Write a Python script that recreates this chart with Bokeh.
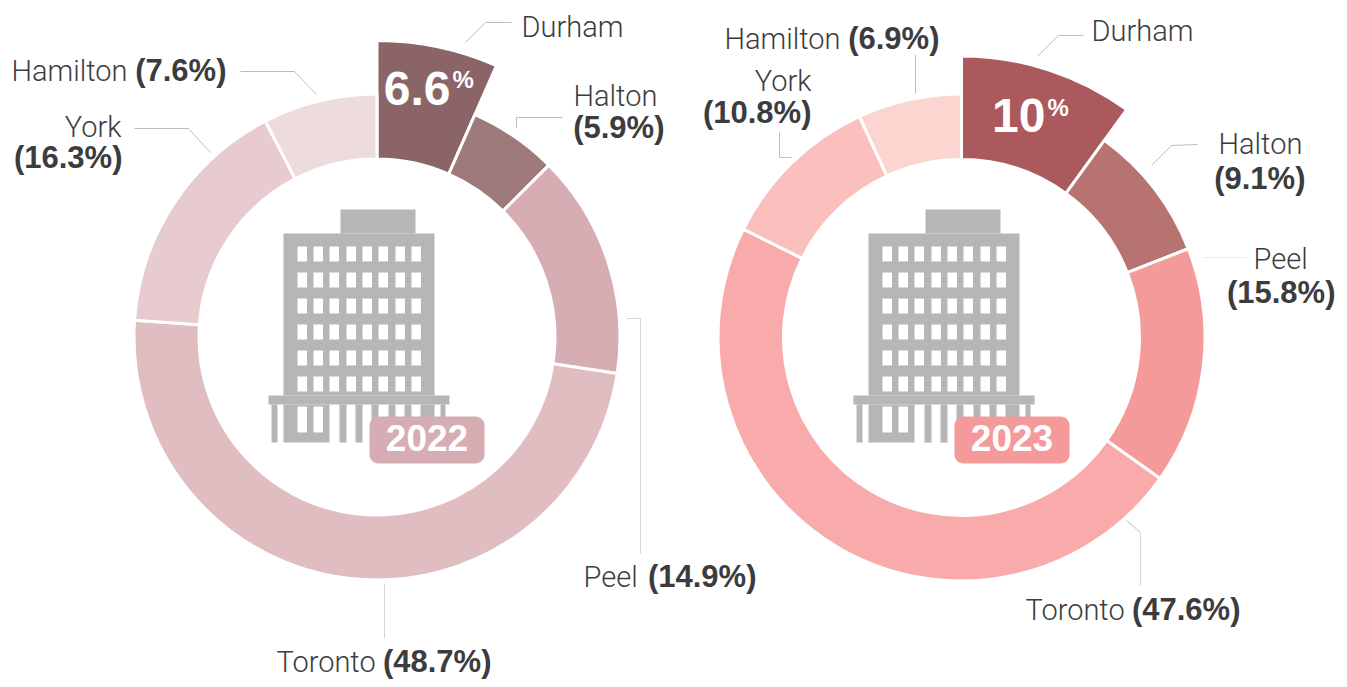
import numpy as np
from bokeh.plotting import figure
from bokeh.models import Range1d, ColumnDataSource
from bokeh.core.properties import value
from bokeh.embed import file_html
from bokeh.resources import INLINE

regions = ["Durham", "Halton", "Peel", "Toronto", "York", "Hamilton"]
values_2022 = [6.6, 5.9, 14.9, 48.7, 16.3, 7.6]
values_2023 = [10, 9.1, 15.8, 47.6, 10.8, 6.9]
colors_2022 = ["#8b6468", "#9e7a7c", "#d6adb2", "#dfbdc1", "#e8cbce", "#eedcdd"]
colors_2023 = ["#aa5a5c", "#b7736f", "#f59a9a", "#f9abab", "#fbbfbd", "#fcd5d0"]

W, H = 1347, 687
LIGHT = "Roboto Light"
BOLD = "Liberation Sans"
INK = "#3c3c3e"
GREY = "#b5b6b5"
LEAD = "#bdbdbd"
LEAD_SOFT = "#d6d6d6"
LEAD_FAINT = "#ebebeb"
BASE = 0.37  # svg text baseline compensation, in em


def Y(v):
    return H - np.asarray(v, dtype=float)


p = figure(width=W, height=H, x_range=Range1d(0, W), y_range=Range1d(0, H),
           output_backend="svg", toolbar_location=None, min_border=0,
           outline_line_color=None, background_fill_color="white", border_fill_color="white")
p.axis.visible = False
p.grid.visible = False


def donut(cx, cy, vals, cols, r_in, r_out, r_pop):
    arr = np.array(vals, dtype=float)
    cum = np.concatenate([[0], np.cumsum(arr)]) / arr.sum()
    src = ColumnDataSource(dict(
        x=[cx] * len(arr), y=[H - cy] * len(arr),
        s=list(np.pi / 2 - 2 * np.pi * cum[:-1]),
        e=list(np.pi / 2 - 2 * np.pi * cum[1:]),
        o=[r_pop] + [r_out] * (len(arr) - 1),
        c=cols))
    p.annular_wedge("x", "y", inner_radius=r_in, outer_radius="o", start_angle="s", end_angle="e",
                    direction="clock", fill_color="c", line_color="white", line_width=3, source=src)


def label(txt, x, y, align="left", bold=False, size=None, font=None, color=INK):
    size = size or (31 if bold else 29)
    p.text([x], [H - y + BASE * size], text=[txt], text_font=value(font or (BOLD if bold else LIGHT)),
           text_font_style="bold" if bold else "normal",
           text_font_size=f"{size}px", text_color=color,
           text_align=align, text_baseline="alphabetic")


def building(dx, dy, badge_color, year):
    q = []
    q.append((340, 415, 209, 233))
    q.append((283, 434, 233, 395))
    q.append((268, 449, 395, 404))
    q.append((283, 329, 404, 442))
    for l, r in [(339, 346), (355, 362), (371, 378), (388, 395), (404, 411), (420, 434)]:
        q.append((l, r, 404, 442))
    q.append((271, 277, 404, 442))
    q.append((440, 445, 404, 442))
    p.quad(left=[a[0] + dx for a in q], right=[a[1] + dx for a in q],
           bottom=list(Y([a[3] + dy for a in q])), top=list(Y([a[2] + dy for a in q])),
           fill_color=GREY, line_color=None)
    w = []
    xs = [297, 313, 329, 346, 362, 378, 395, 411]
    ys = [246, 272, 298, 324, 350, 376]
    for x in xs:
        for y in ys:
            w.append((x, x + 9.5, y, y + 15))
    w.append((297, 306.5, 406, 432))
    w.append((313, 322.5, 406, 432))
    p.quad(left=[a[0] + dx for a in w], right=[a[1] + dx for a in w],
           bottom=list(Y([a[3] + dy for a in w])), top=list(Y([a[2] + dy for a in w])),
           fill_color="white", line_color=None)
    # rounded badge
    l, r, t, b, rad = 369 + dx, 484 + dx, 416 + dy, 463 + dy, 9
    th = np.linspace(0, np.pi / 2, 10)
    bx = np.concatenate([r - rad + rad * np.cos(th), l + rad - rad * np.sin(th),
                         l + rad - rad * np.cos(th), r - rad + rad * np.sin(th)])
    by = np.concatenate([t + rad - rad * np.sin(th), t + rad - rad * np.cos(th),
                         b - rad + rad * np.sin(th), b - rad + rad * np.cos(th)])
    p.patch(list(bx), list(Y(by)), fill_color=badge_color, line_color=None)
    label(year, 426.5 + dx, 451 + dy, "center", True, 37, BOLD, "white")


def lead(pts, color=LEAD):
    p.line([a[0] for a in pts], list(Y([a[1] for a in pts])), line_color=color, line_width=1)


def pct(v):
    return f"({v}%)"


donut(376.5, 336.5, values_2022, colors_2022, 178, 243, 296.5)
donut(961, 337, values_2023, colors_2023, 178, 243.5, 281.5)
building(0, 0, colors_2022[2], "2022")
building(585, 0, colors_2023[2], "2023")

for pts in [[(465, 42), (485, 22), (511, 22)],
            [(516, 128), (516, 117), (562, 117)],
            [(134, 128), (188, 128), (210, 152)], [(240, 71), (294, 71), (316, 94)],
            [(1037, 56), (1058, 35), (1083, 35)], [(1151, 165), (1171, 145), (1197, 144)],
            [(1126, 520), (1140, 532)],
            [(779, 132), (779, 157), (791, 157)], [(915, 54), (915, 93)]]:
    lead(pts)
for pts in [[(626, 318), (640, 318), (640, 553)], [(384, 583), (384, 638)], [(1140, 532), (1140, 585)]]:
    lead(pts, LEAD_SOFT)
lead([(1203, 257), (1246, 257)], LEAD_FAINT)

# 2022 labels
label(regions[0], 521, 37)
label(regions[1], 573, 106)
label(pct(values_2022[1]), 664, 138, "right", True)
label(regions[2], 583, 587)
label(pct(values_2022[2]), 756, 587, "right", True)
label(regions[3], 276, 672)
label(pct(values_2022[3]), 491, 672, "right", True)
label(regions[4], 121, 137, "right")
label(pct(values_2022[4]), 122, 168, "right", True)
label(regions[5], 11, 81)
label(pct(values_2022[5]), 226, 81, "right", True)

# 2023 labels
label(regions[0], 1091, 41)
label(regions[1], 1218, 154)
label(pct(values_2023[1]), 1305, 189, "right", True)
label(regions[2], 1253, 269)
label(pct(values_2023[2]), 1335, 303, "right", True)
label(regions[3], 1025, 620)
label(pct(values_2023[3]), 1240, 620, "right", True)
label(regions[4], 811, 91, "right")
label(pct(values_2023[4]), 811, 123, "right", True)
label(regions[5], 724, 49)
label(pct(values_2023[5]), 939, 49, "right", True)

# highlighted values
label(f"{values_2022[0]}", 450, 106, "right", True, 48, BOLD, "white")
label("%", 452, 88, "left", True, 24, BOLD, "white")
label(f"{values_2023[0]}", 1045, 133, "right", True, 48, BOLD, "white")
label("%", 1047, 116, "left", True, 24, BOLD, "white")

open("out.html", "w").write(file_html(p, INLINE))
